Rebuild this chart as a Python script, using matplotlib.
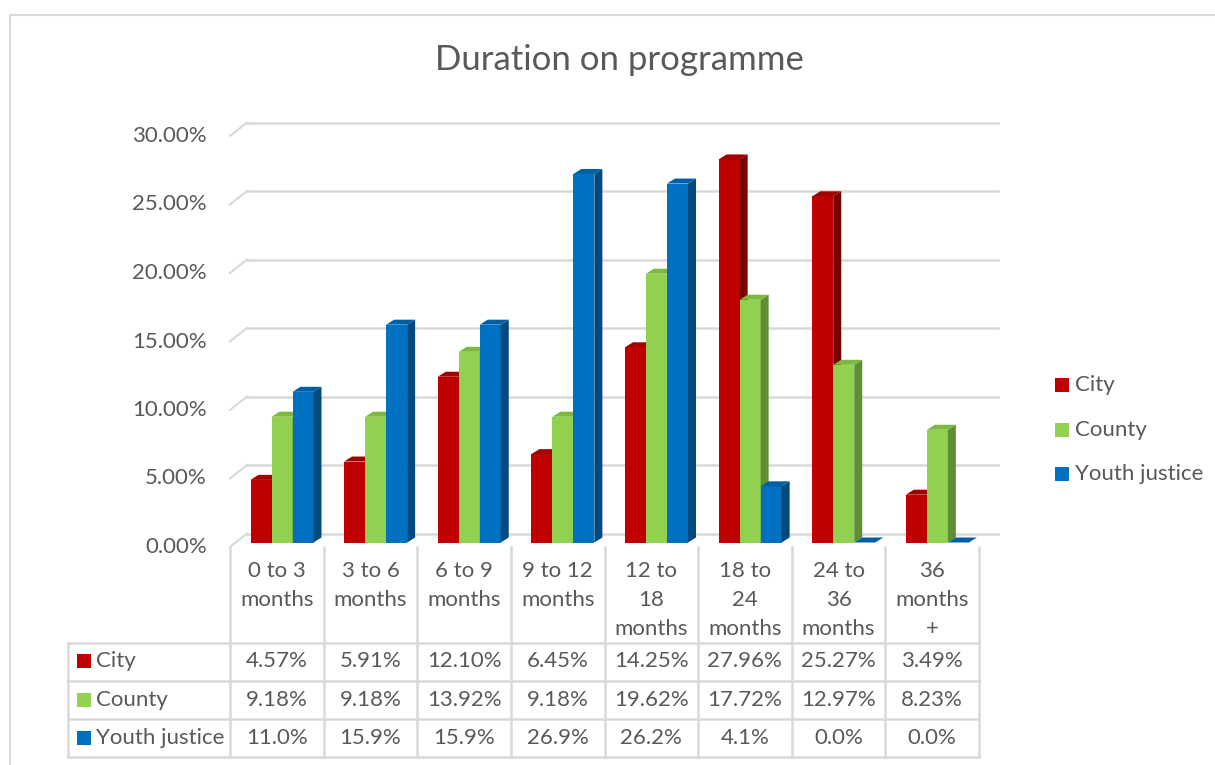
import matplotlib
matplotlib.use("Agg")
import matplotlib.pyplot as plt
from matplotlib.patches import Polygon, Rectangle
from matplotlib.lines import Line2D

# ---------------- data ----------------
categories = ["0 to 3\nmonths", "3 to 6\nmonths", "6 to 9\nmonths", "9 to 12\nmonths",
              "12 to\n18\nmonths", "18 to\n24\nmonths", "24 to\n36\nmonths", "36\nmonths\n+"]
series_names = ["City", "County", "Youth justice"]
city = [4.57, 5.91, 12.10, 6.45, 14.25, 27.96, 25.27, 3.49]
county = [9.18, 9.18, 13.92, 9.18, 19.62, 17.72, 12.97, 8.23]
youth = [11.0, 15.9, 15.9, 26.9, 26.2, 4.1, 0.0, 0.0]
city_labels = ["4.57%", "5.91%", "12.10%", "6.45%", "14.25%", "27.96%", "25.27%", "3.49%"]
county_labels = ["9.18%", "9.18%", "13.92%", "9.18%", "19.62%", "17.72%", "12.97%", "8.23%"]
youth_labels = ["11.0%", "15.9%", "15.9%", "26.9%", "26.2%", "4.1%", "0.0%", "0.0%"]
yticks = [0, 5, 10, 15, 20, 25, 30]
ytick_labels = ["0.00%", "5.00%", "10.00%", "15.00%", "20.00%", "25.00%", "30.00%"]
title = "Duration on programme"

series = [city, county, youth]
table_labels = [city_labels, county_labels, youth_labels]
front = ["#C00000", "#92D050", "#0070C0"]
topc = ["#A30000", "#7DB83F", "#005FA6"]
side = ["#7A0000", "#5F8F33", "#004A80"]
TXT = "#595959"
GRID = "#D9D9D9"
FONT = "Lato"
FS = 16

W, H = 1215, 765
fig = plt.figure(figsize=(W / 100, H / 100), dpi=100)

# background axes in pixel coordinates
bg = fig.add_axes([0, 0, 1, 1])
bg.set_xlim(0, W)
bg.set_ylim(H, 0)
bg.axis("off")

# chart frame
bg.add_line(Line2D([10, 10, W + 5], [H + 5, 15, 15], color=GRID, lw=1.5))

# plot axes: front edge plane; x categories from 230 to 979 px, y: 0 at 547, 30 at 136
L, R, Y0, Y30 = 230, 979, 547, 136
ax = fig.add_axes([L / W, (H - Y0) / H, (R - L) / W, (Y0 - Y30) / H])
ax.set_xlim(-0.5, 7.5)
ax.set_ylim(0, 30)
ax.axis("off")

pxc = (R - L) / 8.0
pxv = (Y0 - Y30) / 30.0
ox = lambda p: p / pxc
oy = lambda p: p / pxv

# gridlines on back wall + left wall diagonals
wdx, wdy = 17, 13.5
for v in yticks:
    ax.plot([-0.5 + ox(wdx), 7.5 + ox(19)], [v + oy(wdy), v + oy(wdy)],
            color=GRID, lw=1.8, clip_on=False, zorder=1)
    ax.plot([-0.5, -0.5 + ox(wdx)], [v, v + oy(wdy)],
            color=GRID, lw=1.5, clip_on=False, zorder=1)

# bars
bw = ox(21)
start = ox(20.5)
base = oy(4.5)
ddx, ddy = ox(8), oy(5)
for j, vals in enumerate(series):
    xs = [i - 0.5 + start + j * bw for i in range(len(vals))]
    ax.bar(xs, vals, width=bw, bottom=base, align="edge", color=front[j],
           edgecolor="none", zorder=3 + j, clip_on=False)
    for xl, v in zip(xs, vals):
        top = base + v
        ax.add_patch(Polygon([(xl + bw, base), (xl + bw + ddx, base + ddy),
                              (xl + bw + ddx, top + ddy), (xl + bw, top)],
                             closed=True, color=side[j], lw=0, zorder=3 + j, clip_on=False))
        ax.add_patch(Polygon([(xl, top), (xl + bw, top), (xl + bw + ddx, top + ddy),
                              (xl + ddx, top + ddy)],
                             closed=True, color=topc[j], lw=0, zorder=3 + j, clip_on=False))

# y tick labels
for v, lab in zip(yticks, ytick_labels):
    ax.text(-0.5 - ox(23), v, lab, ha="right", va="center", fontsize=FS,
            color=TXT, family=FONT, clip_on=False)

# title
bg.text(619, 60, title, ha="center", va="center", fontsize=25, color=TXT, family=FONT)

# table
col_edges = [L + k * pxc for k in range(9)]
row_lines = [643, 681, 719, 757]
lw_t = 1.8
for x in col_edges:
    bg.add_line(Line2D([x, x], [547, 757], color=GRID, lw=lw_t))
bg.add_line(Line2D([68, 68], [643, 757], color=GRID, lw=lw_t))
for y in row_lines:
    bg.add_line(Line2D([68, R], [y, y], color=GRID, lw=lw_t))

for i, cat in enumerate(categories):
    cx = (col_edges[i] + col_edges[i + 1]) / 2
    for k, line in enumerate(cat.split("\n")):
        bg.text(cx, 571 + 29 * k, line, ha="center", va="center", fontsize=FS,
                color=TXT, family=FONT)

row_cy = [661, 700, 738]
for r in range(3):
    bg.add_patch(Rectangle((77, row_cy[r] - 7), 14, 14, color=front[r], lw=0))
    bg.text(96, row_cy[r], series_names[r], ha="left", va="center", fontsize=FS,
            color=TXT, family=FONT)
    for i, lab in enumerate(table_labels[r]):
        cx = (col_edges[i] + col_edges[i + 1]) / 2
        bg.text(cx, row_cy[r], lab, ha="center", va="center", fontsize=FS,
                color=TXT, family=FONT)

# legend
leg_y = [385, 430, 474]
for r in range(3):
    bg.add_patch(Rectangle((1055, leg_y[r] - 7), 14, 14, color=front[r], lw=0))
    bg.text(1075, leg_y[r], series_names[r], ha="left", va="center", fontsize=FS,
            color=TXT, family=FONT)

fig.savefig("out.png", dpi=100)
